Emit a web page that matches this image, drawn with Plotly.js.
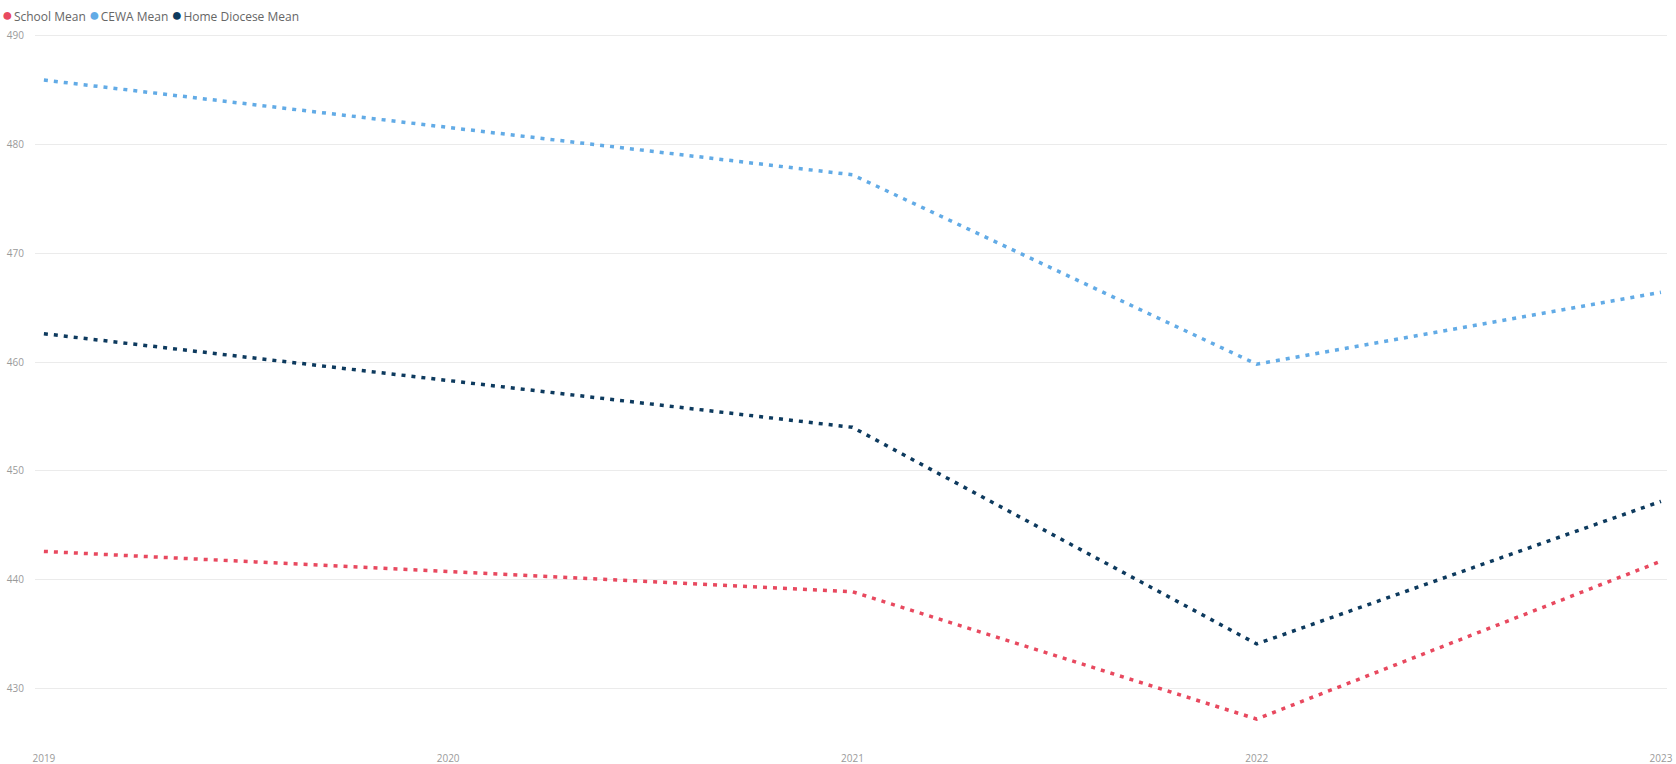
<!DOCTYPE html>
<html>
<head>
<meta charset="utf-8">
<script src="https://cdn.plot.ly/plotly-3.0.1.min.js"></script>
<style>
  html, body { margin: 0; padding: 0; background: #ffffff; }
  #chart { width: 1676px; height: 764px; }
</style>
</head>
<body>
<div id="chart"></div>
<script>
// Years shown on the axis, and years that have measurements
const tickYears = [2019, 2020, 2021, 2022, 2023];
const years = [2019, 2021, 2022, 2023];

// Mean scores per series
const schoolMean = [442.6, 438.9, 427.2, 441.7];
const cewaMean = [485.9, 477.2, 459.8, 466.4];
const homeDioceseMean = [462.6, 454.0, 434.1, 447.2];

const seriesNames = ['School Mean', 'CEWA Mean', 'Home Diocese Mean'];
const seriesValues = [schoolMean, cewaMean, homeDioceseMean];
const seriesColors = ['#E8495F', '#62ABE6', '#0D3A5E'];

const yTicks = [430, 440, 450, 460, 470, 480, 490];

const traces = seriesNames.map((name, i) => ({
  type: 'scatter',
  mode: 'lines',
  name: name,
  x: years,
  y: seriesValues[i],
  line: { color: seriesColors[i], width: 3.5, dash: '4px,6px' },
  showlegend: false,
  hoverinfo: 'x+y+name'
}));

// Legend row: coloured dot followed by series name
const legendText = seriesNames.map((name, i) =>
  `<span style="color:${seriesColors[i]};font-size:18px">●</span><span style="font-size:4px"> </span>${name}`
).join(' ');

const layout = {
  width: 1676,
  height: 764,
  paper_bgcolor: '#ffffff',
  plot_bgcolor: '#ffffff',
  margin: { l: 35, r: 9, t: 30, b: 21 },
  font: { family: '"Segoe UI", "Open Sans", sans-serif', color: '#999999', size: 10 },
  xaxis: {
    range: [2018.978, 2023.015],
    tickvals: tickYears,
    ticktext: tickYears.map(String),
    showgrid: false,
    zeroline: false,
    showline: false,
    ticks: '',
    ticklabelstandoff: 8,
    tickfont: { size: 10, color: '#9A9A9A' }
  },
  yaxis: {
    range: [425, 490.5],
    tickvals: yTicks,
    showgrid: true,
    gridcolor: '#EBEBEB',
    gridwidth: 1,
    zeroline: false,
    showline: false,
    ticks: '',
    ticklabelstandoff: 10,
    tickfont: { size: 10, color: '#9A9A9A' }
  },
  annotations: [{
    xref: 'paper', yref: 'paper',
    x: 0, y: 1,
    xshift: -35, yshift: 16,
    xanchor: 'left', yanchor: 'middle',
    showarrow: false,
    align: 'left',
    text: legendText,
    font: { family: '"Segoe UI", "Open Sans", sans-serif', size: 12, color: '#666666' }
  }],
  showlegend: false
};

Plotly.newPlot('chart', traces, layout, { displayModeBar: false, staticPlot: true });
</script>
</body>
</html>
